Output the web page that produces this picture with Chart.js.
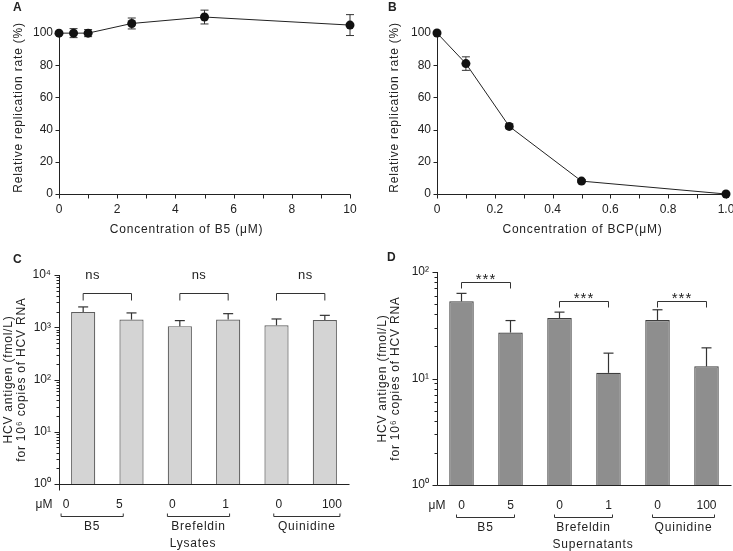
<!DOCTYPE html>
<html>
<head>
<meta charset="utf-8">
<script src="https://cdn.jsdelivr.net/npm/chart.js@4.4.0/dist/chart.umd.min.js"></script>
<style>
  body { margin: 0; background: #fff; }
  #page { position: relative; width: 733px; height: 551px; overflow: hidden; background: #fff; }
  .panel { position: absolute; }
</style>
</head>
<body>
<div id="page">
  <div class="panel" style="left:0;top:0"><canvas id="chartA" width="366" height="250"></canvas></div>
  <div class="panel" style="left:366px;top:0"><canvas id="chartB" width="367" height="250"></canvas></div>
  <div class="panel" style="left:0;top:250px"><canvas id="chartC" width="366" height="301"></canvas></div>
  <div class="panel" style="left:366px;top:250px"><canvas id="chartD" width="367" height="301"></canvas></div>
</div>
<script>
const INK = '#222';
const FONT = '"Liberation Sans", Arial, Helvetica, sans-serif';

// A: B5 dose response
const b5Conc = [0, 0.5, 1, 2.5, 5, 10];
const b5Rate = [100, 100, 100, 106, 110, 105];
const b5Err = [0.5, 2.8, 2.2, 3.4, 4.3, 6.5];
const b5TickMarks = [0, 1, 2, 3, 4, 5, 6, 7, 8, 9, 10];

// B: BCP dose response
const bcpConc = [0, 0.1, 0.25, 0.5, 1.0];
const bcpRate = [100, 81, 42, 8, 0];
const bcpErr = [0.8, 4.2, 1.5, 1, 0.5];
const bcpTickMarks = [0, 0.1, 0.2, 0.3, 0.4, 0.5, 0.6, 0.7, 0.8, 0.9, 1.0];

const rateTicks = [0, 20, 40, 60, 80, 100];

// C / D: HCV antigen
const doseLabels = ['0', '5', '0', '1', '0', '100'];
const drugGroups = ['B5', 'Brefeldin', 'Quinidine'];
const lysateMean = [1960, 1400, 1050, 1400, 1090, 1380];
const lysateErr = [490, 480, 290, 420, 350, 310];
const superMean = [53, 27, 37, 11.3, 35.4, 13];
const superErr = [10, 8, 5, 6, 8.8, 6.4];
const logTicksC = [1, 10, 100, 1000, 10000];
const logTicksD = [1, 10, 100];
const sigTextC = ['ns', 'ns', 'ns'];
const sigLevelC = [4500, 4500, 4500];
const sigTextD = ['***', '***', '***'];
const sigLevelD = [80, 54, 54];

const sup = ['\u2070', '\u00b9', '\u00b2', '\u00b3', '\u2074'];

Chart.defaults.font.family = FONT;
Chart.defaults.font.size = 12;
Chart.defaults.color = INK;

function seg(ctx, x1, y1, x2, y2) {
  ctx.beginPath();
  ctx.moveTo(x1, y1);
  ctx.lineTo(x2, y2);
  ctx.stroke();
}

function txt(ctx, s, x, y, o = {}) {
  ctx.save();
  ctx.font = (o.bold ? 'bold ' : '') + (o.size || 12) + 'px ' + FONT;
  ctx.fillStyle = INK;
  ctx.letterSpacing = (o.spacing ?? 0.8) + 'px';
  ctx.textAlign = o.align || 'center';
  ctx.textBaseline = o.base || 'middle';
  ctx.translate(x, y);
  if (o.rot) ctx.rotate(o.rot);
  ctx.fillText(s, 0, 0);
  ctx.restore();
}

// axis line + outward tick marks for the linear panels
function drawLinearAxes(chart, yTop) {
  const { ctx, chartArea: a, scales: { x, y } } = chart;
  const yb = Math.round(a.bottom) + 0.5, xl = Math.round(a.left) + 0.5;
  ctx.save();
  ctx.strokeStyle = INK;
  ctx.lineWidth = 1;
  seg(ctx, xl, yb, Math.round(a.right) + 0.5, yb);
  seg(ctx, xl, yb, xl, y.getPixelForValue(yTop));
  x.ticks.forEach(t => {
    const px = Math.round(x.getPixelForValue(t.value)) + 0.5;
    seg(ctx, px, yb, px, yb + 4);
  });
  y.ticks.forEach(t => {
    const py = Math.round(y.getPixelForValue(t.value)) + 0.5;
    seg(ctx, xl, py, xl - 4, py);
  });
  ctx.restore();
}

function drawLogAxes(chart, tail) {
  const { ctx, chartArea: a, scales: { y } } = chart;
  const yb = Math.round(a.bottom) + 0.5, xl = Math.round(a.left) + 0.5;
  ctx.save();
  ctx.strokeStyle = INK;
  ctx.lineWidth = 1;
  seg(ctx, xl, yb, Math.round(a.right) + 0.5, yb);
  seg(ctx, xl, a.top, xl, yb + tail);
  for (let d = y.min; d <= y.max; d *= 10) {
    const py = Math.round(y.getPixelForValue(d)) + 0.5;
    seg(ctx, xl, py, xl - 5, py);
    if (d >= y.max) break;
    for (let k = 2; k <= 9; k++) {
      const pm = Math.round(y.getPixelForValue(k * d)) + 0.5;
      seg(ctx, xl, pm, xl - 3, pm);
    }
  }
  ctx.restore();
}

function drawPointErrors(chart, errs) {
  const { ctx, scales: { y } } = chart;
  const ds = chart.data.datasets[0];
  ctx.save();
  ctx.strokeStyle = '#333';
  ctx.lineWidth = 1;
  chart.getDatasetMeta(0).data.forEach((pt, i) => {
    const v = ds.data[i].y;
    const top = y.getPixelForValue(v + errs[i]);
    const bot = y.getPixelForValue(v - errs[i]);
    seg(ctx, pt.x, top, pt.x, bot);
    seg(ctx, pt.x - 4, top, pt.x + 4, top);
    seg(ctx, pt.x - 4, bot, pt.x + 4, bot);
  });
  ctx.restore();
}

function drawBarErrors(chart, means, errs) {
  const { ctx, scales: { y } } = chart;
  ctx.save();
  ctx.strokeStyle = '#333';
  ctx.lineWidth = 1.2;
  chart.getDatasetMeta(0).data.forEach((bar, i) => {
    const top = y.getPixelForValue(means[i] + errs[i]);
    seg(ctx, bar.x, bar.y, bar.x, top);
    seg(ctx, bar.x - 5, top, bar.x + 5, top);
  });
  ctx.restore();
}

// o.spread / o.shift: the lysate panel's labels sit a bit wider than its bars
function labelX(chart, v, o) {
  const a = chart.chartArea;
  const mid = (a.left + a.right) / 2;
  return mid + (v - mid) * o.spread + o.shift;
}

function drawSig(chart, texts, levels, o) {
  const { ctx, scales: { x, y } } = chart;
  ctx.save();
  ctx.strokeStyle = '#333';
  ctx.lineWidth = 1;
  texts.forEach((s, k) => {
    const x0 = x.getPixelForValue(2 * k), x1 = x.getPixelForValue(2 * k + 1);
    const py = Math.round(y.getPixelForValue(levels[k])) + 0.5;
    ctx.beginPath();
    ctx.moveTo(x0, py + o.leg);
    ctx.lineTo(x0, py);
    ctx.lineTo(x1, py);
    ctx.lineTo(x1, py + o.leg);
    ctx.stroke();
    txt(ctx, s, labelX(chart, (x0 + x1) / 2, o), py - o.gap, { size: o.sigSize, spacing: o.textSpacing, base: 'alphabetic' });
  });
  ctx.restore();
}

function drawDoseLabels(chart, o) {
  const { ctx, chartArea: a, scales: { x } } = chart;
  const yb = a.bottom;
  const px = i => labelX(chart, x.getPixelForValue(i), o);
  txt(ctx, '\u03bcM', a.left + o.unitDx, yb + 21, { spacing: 0 });
  doseLabels.forEach((s, i) => txt(ctx, s, px(i), yb + 21, { spacing: 0 }));
  ctx.save();
  ctx.font = '12px ' + FONT;
  ctx.strokeStyle = '#333';
  ctx.lineWidth = 1;
  drugGroups.forEach((g, k) => {
    const w = ctx.measureText(doseLabels[2 * k + 1]).width;
    const l = px(2 * k) - 5;
    const r = px(2 * k + 1) + Math.max(4, w / 2 - 2);
    const by = Math.round(yb + 32) + 0.5;
    ctx.beginPath();
    ctx.moveTo(l, by - 3);
    ctx.lineTo(l, by);
    ctx.lineTo(r, by);
    ctx.lineTo(r, by - 3);
    ctx.stroke();
    txt(ctx, g, (l + r) / 2, yb + 43);
  });
  ctx.restore();
  txt(ctx, o.caption, (a.left + a.right) / 2 + o.captionDx, yb + 60);
}

function fixX(h) {
  return s => { s.height = h; s.paddingLeft = 0; s.paddingRight = 0; };
}
function fixY(w) {
  return s => { s.width = w; s.paddingTop = 0; s.paddingBottom = 0; };
}
function setTicks(list) {
  return s => { s.ticks = list.map(v => ({ value: v })); };
}

function lineChart(id, xs, ys, errs, o) {
  return new Chart(document.getElementById(id), {
    type: 'scatter',
    data: {
      datasets: [{
        data: xs.map((x, i) => ({ x, y: ys[i] })),
        showLine: true,
        borderColor: INK,
        borderWidth: 1,
        pointRadius: 4.5,
        pointBackgroundColor: '#111',
        pointBorderColor: '#111',
        pointBorderWidth: 0,
        clip: false
      }]
    },
    options: {
      responsive: false,
      animation: false,
      events: [],
      layout: { padding: { top: o.padTop, right: o.padRight, left: 0, bottom: 0 } },
      plugins: { legend: { display: false }, tooltip: { enabled: false } },
      scales: {
        x: {
          type: 'linear', min: 0, max: o.xMax,
          grid: { display: false, drawTicks: false }, border: { display: false },
          afterBuildTicks: setTicks(o.xMarks),
          afterFit: fixX(56),
          ticks: { padding: 8, autoSkip: false, maxRotation: 0, callback: o.xLabel }
        },
        y: {
          min: 0, max: o.yMax,
          grid: { display: false, drawTicks: false }, border: { display: false },
          afterBuildTicks: setTicks(rateTicks),
          afterFit: fixY(o.yWidth),
          ticks: { padding: 6 }
        }
      }
    },
    plugins: [{
      id: 'sciA',
      beforeDatasetsDraw(chart) {
        drawLinearAxes(chart, 100);
        drawPointErrors(chart, errs);
      },
      afterDraw(chart) {
        const { ctx, chartArea: a } = chart;
        txt(ctx, o.letter, o.letterX, 10.5, { bold: true, size: 12, spacing: 0, align: 'left', base: 'alphabetic' });
        txt(ctx, 'Relative replication rate (%)', a.left + o.yTitleDx, 107.5, { rot: -Math.PI / 2 });
        txt(ctx, o.xTitle, (a.left + a.right) / 2 + o.xTitleDx, 230);
      }
    }]
  });
}

lineChart('chartA', b5Conc, b5Rate, b5Err, {
  xMax: 10, yMax: 115, padTop: 9, padRight: 16, yWidth: 59,
  xMarks: b5TickMarks,
  xLabel: v => (v % 2 === 0 ? v : ''),
  letter: 'A', letterX: 13, yTitleDx: -40,
  xTitle: 'Concentration of B5 (\u03bcM)', xTitleDx: -18
});

lineChart('chartB', bcpConc, bcpRate, bcpErr, {
  xMax: 1, yMax: 100, padTop: 33, padRight: 7, yWidth: 71,
  xMarks: bcpTickMarks,
  xLabel: (v, i) => (i % 2 === 0 ? (i === 0 ? '0' : v.toFixed(1)) : ''),
  letter: 'B', letterX: 22, yTitleDx: -42,
  xTitle: 'Concentration of BCP(\u03bcM)', xTitleDx: 1
});

function barChart(id, means, errs, o) {
  return new Chart(document.getElementById(id), {
    type: 'bar',
    data: {
      labels: doseLabels,
      datasets: [{
        data: means,
        backgroundColor: o.fill,
        borderColor: o.stroke,
        borderWidth: 1.2,
        barPercentage: 0.5,
        categoryPercentage: 1
      }]
    },
    options: {
      responsive: false,
      animation: false,
      events: [],
      layout: { padding: { top: o.padTop, right: o.padRight, left: 0, bottom: 0 } },
      plugins: { legend: { display: false }, tooltip: { enabled: false } },
      scales: {
        x: {
          grid: { display: false, drawTicks: false }, border: { display: false },
          ticks: { display: false },
          afterFit: fixX(o.xHeight)
        },
        y: {
          type: 'logarithmic', min: 1, max: o.yMax,
          grid: { display: false, drawTicks: false }, border: { display: false },
          afterBuildTicks: setTicks(o.yTicks),
          afterFit: fixY(o.yWidth),
          ticks: { padding: 8, callback: v => '10' + sup[Math.round(Math.log10(v))] }
        }
      }
    },
    plugins: [{
      id: 'sciC',
      beforeDatasetsDraw(chart) {
        drawLogAxes(chart, o.tail);
      },
      afterDatasetsDraw(chart) {
        drawBarErrors(chart, means, errs);
      },
      afterDraw(chart) {
        const { ctx, chartArea: a } = chart;
        drawSig(chart, o.sigText, o.sigLevel, o);
        drawDoseLabels(chart, o);
        txt(ctx, o.letter, o.letterX, o.letterY, { bold: true, size: 12, spacing: 0, align: 'left', base: 'alphabetic' });
        const cy = (a.top + a.bottom) / 2;
        txt(ctx, 'HCV antigen (fmol/L)', a.left + o.t1, cy, { rot: -Math.PI / 2 });
        txt(ctx, 'for 10\u2076 copies of HCV RNA', a.left + o.t2, cy, { rot: -Math.PI / 2 });
      }
    }]
  });
}

barChart('chartC', lysateMean, lysateErr, {
  fill: '#d4d4d4', stroke: '#5e5e5e',
  padTop: 25, padRight: 17, xHeight: 67, yWidth: 59, yMax: 10000, yTicks: logTicksC, tail: 6,
  sigText: sigTextC, sigLevel: sigLevelC, leg: 7, gap: 15, sigSize: 13, textSpacing: 0.5,
  spread: 1.1, shift: -5, unitDx: -15, caption: 'Lysates', captionDx: -11,
  letter: 'C', letterX: 13, letterY: 13, t1: -50, t2: -37
});

barChart('chartD', superMean, superErr, {
  fill: '#8e8e8e', stroke: '#3e3e3e',
  padTop: 22, padRight: 2, xHeight: 66, yWidth: 71, yMax: 100, yTicks: logTicksD, tail: 0,
  sigText: sigTextD, sigLevel: sigLevelD, leg: 6, gap: -1, sigSize: 15, textSpacing: 1,
  spread: 1, shift: 0, unitDx: 0, caption: 'Supernatants', captionDx: 9,
  letter: 'D', letterX: 21, letterY: 11, t1: -54, t2: -41
});
</script>
</body>
</html>
